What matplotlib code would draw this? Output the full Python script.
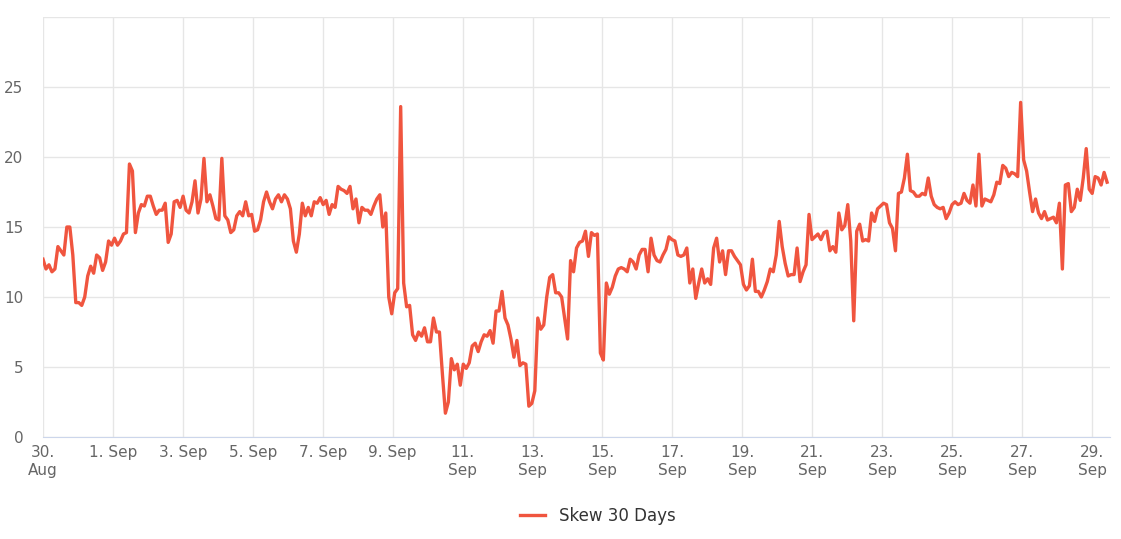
import numpy as np
import pandas as pd
import matplotlib.pyplot as plt
import matplotlib.dates as mdates

# skew values, evenly spaced from 30 Aug 00:00 to ~29 Sep 10:00
skew = [12.7, 12, 12.3, 11.8, 12, 13.6, 13.3, 13, 15, 15, 13, 9.6, 9.6, 9.4, 10, 11.5, 12.2, 11.7, 13, 12.8,
        11.9, 12.5, 14, 13.7, 14.2, 13.7, 14, 14.5, 14.6, 19.5, 19, 14.6, 16, 16.6, 16.5, 17.2, 17.2, 16.5, 15.9, 16.2,
        16.2, 16.7, 13.9, 14.5, 16.8, 16.9, 16.4, 17.2, 16.2, 16, 16.8, 18.3, 16, 17, 19.9, 16.8, 17.3, 16.5, 15.6, 15.5,
        19.9, 15.8, 15.5, 14.6, 14.8, 15.8, 16.1, 15.8, 16.8, 15.8, 15.9, 14.7, 14.8, 15.5, 16.8, 17.5, 16.8, 16.3, 17, 17.3,
        16.8, 17.3, 17, 16.3, 14, 13.2, 14.5, 16.7, 15.8, 16.4, 15.8, 16.8, 16.7, 17.1, 16.6, 16.9, 15.9, 16.6, 16.4, 17.9,
        17.7, 17.6, 17.4, 17.9, 16.3, 17, 15.3, 16.4, 16.2, 16.2, 15.9, 16.5, 17, 17.3, 15, 16, 10, 8.8, 10.3, 10.6,
        23.6, 11, 9.3, 9.4, 7.3, 6.9, 7.5, 7.2, 7.8, 6.8, 6.8, 8.5, 7.5, 7.5, 4.5, 1.7, 2.5, 5.6, 4.8, 5.2,
        3.7, 5.2, 4.9, 5.3, 6.5, 6.7, 6.1, 6.8, 7.3, 7.2, 7.6, 6.7, 9, 9, 10.4, 8.5, 8, 7, 5.7, 6.9,
        5.1, 5.3, 5.2, 2.2, 2.4, 3.3, 8.5, 7.7, 8, 10, 11.4, 11.6, 10.3, 10.3, 10, 8.5, 7, 12.6, 11.8, 13.5,
        13.9, 14, 14.7, 12.9, 14.6, 14.4, 14.5, 6, 5.5, 11, 10.2, 10.7, 11.5, 12, 12.1, 12, 11.8, 12.7, 12.5, 12,
        13, 13.4, 13.4, 11.8, 14.2, 13, 12.6, 12.5, 13, 13.4, 14.3, 14.1, 14, 13, 12.9, 13, 13.5, 11, 12, 9.9,
        11, 12, 11, 11.3, 10.9, 13.5, 14.2, 12.5, 13.3, 11.6, 13.3, 13.3, 12.9, 12.6, 12.3, 10.9, 10.5, 10.8, 12.7, 10.4,
        10.4, 10, 10.5, 11.1, 12, 11.8, 13, 15.4, 13.6, 12.4, 11.5, 11.6, 11.6, 13.5, 11.1, 11.8, 12.3, 15.9, 14.1, 14.3,
        14.5, 14.1, 14.6, 14.7, 13.3, 13.6, 13.2, 16, 14.8, 15.1, 16.6, 14, 8.3, 14.7, 15.2, 14, 14.1, 14, 16, 15.4,
        16.3, 16.5, 16.7, 16.6, 15.3, 14.9, 13.3, 17.4, 17.5, 18.5, 20.2, 17.6, 17.5, 17.2, 17.2, 17.4, 17.3, 18.5, 17.2, 16.6,
        16.4, 16.3, 16.4, 15.6, 16, 16.6, 16.8, 16.6, 16.7, 17.4, 16.9, 16.7, 18, 16.5, 20.2, 16.5, 17, 16.9, 16.8, 17.3,
        18.2, 18.1, 19.4, 19.2, 18.6, 18.9, 18.8, 18.6, 23.9, 19.8, 19, 17.5, 16.1, 17, 16, 15.6, 16.1, 15.5, 15.6, 15.7,
        15.3, 16.7, 12, 18, 18.1, 16.1, 16.4, 17.7, 16.9, 18.5, 20.6, 17.7, 17.4, 18.6, 18.5, 18, 18.9, 18.2]

times = pd.date_range("2021-08-30 00:00", "2021-09-29 10:20", periods=len(skew))
tick_dates = pd.date_range("2021-08-30", "2021-09-29", freq="2D")
tick_labels = ["30.\nAug", "1. Sep", "3. Sep", "5. Sep", "7. Sep", "9. Sep", "11.\nSep", "13.\nSep",
               "15.\nSep", "17.\nSep", "19.\nSep", "21.\nSep", "23.\nSep", "25.\nSep", "27.\nSep", "29.\nSep"]

fig = plt.figure(figsize=(11.21, 5.39), dpi=100)
ax = fig.add_axes([43 / 1121, 102 / 539, 1067 / 1121, 420 / 539])
ax.plot(times, skew, color="#f0553f", lw=2.4, label="Skew 30 Days")

ax.set_ylim(0, 30)
ax.set_yticks([0, 5, 10, 15, 20, 25, 30])
ax.set_yticklabels(["0", "5", "10", "15", "20", "25", ""])
ax.set_xlim(times[0], times[-1] + pd.Timedelta(hours=2))
ax.set_xticks(tick_dates)
ax.set_xticklabels(tick_labels)
ax.grid(True, color="#e6e6e6", lw=1)
ax.set_axisbelow(True)
for s in ["top", "right", "left"]:
    ax.spines[s].set_visible(False)
ax.spines["bottom"].set_color("#ccd6eb")
ax.tick_params(axis="y", length=0, labelsize=11, colors="#666666", pad=14)
ax.tick_params(axis="x", length=0, labelsize=11, colors="#666666", pad=6)

ax.legend(loc="upper center", bbox_to_anchor=(0.52, -0.13), frameon=False, fontsize=12,
          handlelength=1.5, labelcolor="#333333")

fig.savefig("out.png")
